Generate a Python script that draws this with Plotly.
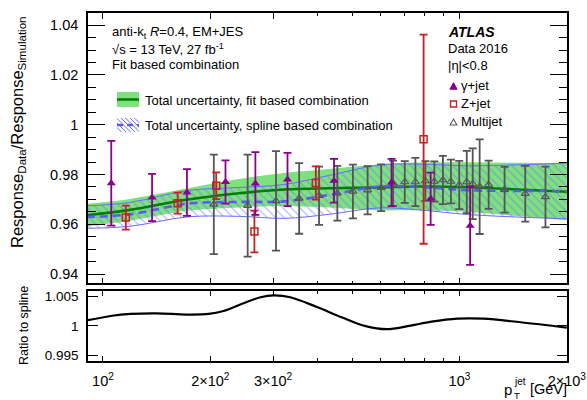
import plotly.graph_objects as go

# ---------------- data ----------------
gamma_pt = [105.5, 137.3, 172.0, 220.6, 267.6, 329.3, 444.6, 644.7, 829.9, 1071.0]
gamma_val = [0.9765, 0.9708, 0.9728, 0.9770, 0.9764, 0.9780, 0.9775, 0.9768, 0.9703, 0.9594]
gamma_err = [0.0170, 0.0095, 0.0094, 0.0087, 0.0126, 0.0107, 0.0088, 0.0095, 0.0105, 0.0157]

zjet_pt = [115.9, 162.0, 207.8, 265.9, 395.4, 793.1]
zjet_val = [0.9627, 0.9685, 0.9755, 0.9571, 0.9766, 0.9942]
zjet_err = [0.0048, 0.0042, 0.0054, 0.0084, 0.0067, 0.0420]

mj_pt = [204.6, 254.6, 305.7, 355.0, 403.7, 454.3, 502.4, 552.4, 602.9, 651.2, 702.2, 752.2,
         802.3, 850.0, 898.4, 945.9, 998.2, 1048.0, 1089.0, 1139.0, 1207.0, 1338.0, 1529.0, 1742.0]
mj_val = [0.9680, 0.9675, 0.9694, 0.9704, 0.9715, 0.9725, 0.9732, 0.9737, 0.9747, 0.9765, 0.9770, 0.9770,
          0.9774, 0.9772, 0.9778, 0.9772, 0.9758, 0.9770, 0.9763, 0.9751, 0.9759, 0.9739, 0.9723, 0.9710]
mj_err = [0.0200, 0.0205, 0.0200, 0.0142, 0.0117, 0.0110, 0.0108, 0.0097, 0.0094, 0.0091, 0.0084, 0.0097,
          0.0080, 0.0081, 0.0097, 0.0088, 0.0097, 0.0125, 0.0142, 0.0190, 0.0097, 0.0092, 0.0112, 0.0122]

band_pt = [90, 119, 173, 241, 322, 430, 594, 768, 1060, 1461, 2000]
fit_center = [0.9637, 0.9658, 0.9700, 0.9725, 0.9740, 0.9745, 0.9748, 0.9752, 0.9749, 0.9740, 0.9731]
fit_up = [0.9682, 0.9702, 0.9745, 0.9782, 0.9806, 0.9822, 0.9840, 0.9848, 0.9849, 0.9847, 0.9846]
fit_low = [0.9592, 0.9614, 0.9655, 0.9668, 0.9674, 0.9668, 0.9656, 0.9656, 0.9649, 0.9633, 0.9616]
spl_center = [0.9629, 0.9640, 0.9683, 0.9690, 0.9692, 0.9718, 0.9752, 0.9750, 0.9737, 0.9734, 0.9734]
spl_up = [0.9674, 0.9688, 0.9736, 0.9748, 0.9760, 0.9796, 0.9838, 0.9842, 0.9835, 0.9839, 0.9846]
spl_low = [0.9584, 0.9592, 0.9630, 0.9632, 0.9624, 0.9640, 0.9666, 0.9658, 0.9639, 0.9629, 0.9622]

ratio_pt = [90, 106.1, 119.7, 141.5, 171.4, 198, 217.8, 245.6, 276.8, 301.1, 335.2, 396.7, 469.1,
            541.9, 625.6, 722.3, 834.2, 986.5, 1166, 1483, 2000]
ratio_val = [1.0009, 1.0017, 1.0020, 1.0021, 1.0019, 1.0020, 1.0025, 1.0037, 1.0048, 1.0051, 1.0048,
             1.0032, 1.0014, 1.0000, 0.99944, 1.0000, 1.0007, 1.0012, 1.0012, 1.0006, 0.9997]

x_major_vals = [100, 200, 300, 1000, 2000]
x_major_text = ["10<sup>2</sup>", "2\u00d710<sup>2</sup>", "3\u00d710<sup>2</sup>", "10<sup>3</sup>", "2\u00d710<sup>3</sup>"]
x_minor_vals = [400, 500, 600, 700, 800, 900]
y_top_vals = [0.94, 0.96, 0.98, 1.0, 1.02, 1.04]
y_top_text = ["0.94", "0.96", "0.98", "1", "1.02", "1.04"]
y_bot_vals = [0.995, 1.0, 1.005]
y_bot_text = ["0.995", "1", "1.005"]

# ---------------- styles ----------------
FONT = "Liberation Sans, Arial, sans-serif"
GREEN_FILL = "#7ee07e"
GREEN_LINE = "#008000"
BLUE = "#6a6aff"
BLUE_DASH = "#5a5af5"
PURPLE = "#8b008b"
RED = "#cc1f1f"
GRAY = "#555555"

W, H = 587, 400
L, R, T, B = 88, 20, 13, 39


def px(x):
    return (x - L) / (W - L - R)


def py(y):
    return (H - B - y) / (H - T - B)


fig = go.Figure()

# fit-based band (solid green)
fig.add_trace(go.Scatter(x=band_pt, y=fit_up, mode="lines", line=dict(width=0, shape="spline"),
                         hoverinfo="skip", showlegend=False))
fig.add_trace(go.Scatter(x=band_pt, y=fit_low, mode="lines", line=dict(width=0, shape="spline"),
                         fill="tonexty", fillcolor=GREEN_FILL, hoverinfo="skip", showlegend=False))
# spline-based band (hatched)
fig.add_trace(go.Scatter(x=band_pt, y=spl_up, mode="lines", line=dict(width=1, color=BLUE, shape="spline"),
                         hoverinfo="skip", showlegend=False))
fig.add_trace(go.Scatter(x=band_pt, y=spl_low, mode="lines", line=dict(width=1, color=BLUE, shape="spline"),
                         fill="tonexty", fillcolor="rgba(0,0,0,0)",
                         fillpattern=dict(shape="\\", fgcolor="#6f6fff", bgcolor="rgba(0,0,0,0)",
                                          size=6, solidity=0.2, fillmode="overlay"),
                         hoverinfo="skip", showlegend=False))
# central lines
fig.add_trace(go.Scatter(x=band_pt, y=fit_center, mode="lines",
                         line=dict(width=2.6, color=GREEN_LINE, shape="spline"), showlegend=False))
fig.add_trace(go.Scatter(x=band_pt, y=spl_center, mode="lines",
                         line=dict(width=2.6, color=BLUE_DASH, shape="spline", dash="8px,5px"), showlegend=False))

# data points
fig.add_trace(go.Scatter(x=mj_pt, y=mj_val, mode="markers",
                         marker=dict(symbol="triangle-up-open", size=7, color=GRAY, line=dict(width=1.2, color=GRAY)),
                         error_y=dict(type="data", array=mj_err, color=GRAY, thickness=1.8, width=4),
                         showlegend=False))
fig.add_trace(go.Scatter(x=zjet_pt, y=zjet_val, mode="markers",
                         marker=dict(symbol="square-open", size=7, color=RED, line=dict(width=1.5, color=RED)),
                         error_y=dict(type="data", array=zjet_err, color=RED, thickness=1.8, width=4),
                         showlegend=False))
fig.add_trace(go.Scatter(x=gamma_pt, y=gamma_val, mode="markers",
                         marker=dict(symbol="triangle-up", size=8, color=PURPLE),
                         error_y=dict(type="data", array=gamma_err, color=PURPLE, thickness=1.8, width=4),
                         showlegend=False))

# ratio panel
fig.add_trace(go.Scatter(x=ratio_pt, y=ratio_val, mode="lines", xaxis="x2", yaxis="y2",
                         line=dict(width=2.2, color="black", shape="spline"), showlegend=False))

xrange = [1.958, 3.3015]
axis_common = dict(showline=True, linecolor="black", linewidth=1.5, mirror="allticks", automargin=False,
                   showgrid=False, zeroline=False, ticks="inside", tickcolor="black", tickwidth=1.2)

fig.update_layout(
    width=W, height=H,
    margin=dict(l=L, r=R, t=T, b=B, autoexpand=False),
    paper_bgcolor="white", plot_bgcolor="white",
    font=dict(family=FONT, color="black"),
    showlegend=False,
    xaxis=dict(type="log", range=xrange, domain=[0, 1], anchor="y", showticklabels=False,
               tickmode="array", tickvals=x_major_vals, ticklen=6,
               minor=dict(tickmode="array", tickvals=x_minor_vals, ticklen=3, ticks="inside",
                          tickcolor="black", tickwidth=1.2),
               **axis_common),
    yaxis=dict(range=[0.9363, 1.0449], domain=[py(283.3), 1], anchor="x",
               tickmode="array", tickvals=y_top_vals, ticktext=y_top_text, ticklen=17,
               tickfont=dict(size=14.5, family=FONT), ticklabelstandoff=5,
               minor=dict(dtick=0.005, tick0=0.94, ticklen=8, ticks="inside", tickcolor="black", tickwidth=1.2),
               **axis_common),
    xaxis2=dict(type="log", range=xrange, domain=[0, 1], anchor="y2",
                tickmode="array", tickvals=x_major_vals, ticktext=x_major_text, ticklen=5,
                tickfont=dict(size=14.5, family=FONT), ticklabelstandoff=6,
                minor=dict(tickmode="array", tickvals=x_minor_vals, ticklen=3, ticks="inside",
                           tickcolor="black", tickwidth=1.2),
                **axis_common),
    yaxis2=dict(range=[0.9941, 1.0058], domain=[0, py(291.3)], anchor="x2",
                tickmode="array", tickvals=y_bot_vals, ticktext=y_bot_text, ticklen=10,
                tickfont=dict(size=13.5, family=FONT), ticklabelstandoff=5,
                **axis_common),
)

ann = []


def text(x, y, s, size=13, xanchor="left", color="black", angle=0):
    ann.append(dict(x=px(x), y=py(y), xref="paper", yref="paper", text=s, showarrow=False,
                    xanchor=xanchor, yanchor="middle", textangle=angle,
                    font=dict(size=size, family=FONT, color=color)))


# top-left labels
text(110, 32, "anti-k<sub>t</sub> <i>R</i>=0.4, EM+JES")
text(110, 48.5, "\u221as = 13 TeV, 27 fb<sup>-1</sup>")
text(110, 64.5, "Fit based combination")
text(143, 100, "Total uncertainty, fit based combination")
text(143, 125, "Total uncertainty, spline based combination")

# top-right labels
text(446, 32, "<b><i>ATLAS</i></b>", size=14)
text(446, 49, "Data 2016")
text(446, 66, "|\u03b7|<0.8")
text(459, 85.5, "\u03b3+jet")
text(459, 103.5, "Z+jet")
text(459, 121.5, "Multijet")

# axis titles
text(18, 132, "Response<sub>Data</sub>/Response<sub>Simulation</sub>", size=16.5, xanchor="center", angle=-90)
text(24, 326, "Ratio to spline", size=12.5, xanchor="center", angle=-90)
text(508, 389, "p", size=15, xanchor="center")
text(512, 381.5, "jet", size=10)
text(512, 395, "T", size=9.5)
text(569, 389, "[GeV]", size=14.5, xanchor="right")

fig.update_layout(annotations=ann)

shapes = []
# legend swatch: fit based (green box + line)
shapes.append(dict(type="rect", xref="paper", yref="paper", x0=px(117), x1=px(139), y0=py(107), y1=py(92),
                   fillcolor=GREEN_FILL, line=dict(width=0)))
shapes.append(dict(type="line", xref="paper", yref="paper", x0=px(117), x1=px(139), y0=py(99.5), y1=py(99.5),
                   line=dict(color=GREEN_LINE, width=2.6)))
# legend swatch: spline based (hatch + dashed line)
hx0, hx1, hy0, hy1 = 117, 139, 118, 132
c = hx0 - hy1
while c < hx1 - hy0:
    lo = max(hx0, hy0 + c)
    hi = min(hx1, hy1 + c)
    if hi > lo:
        shapes.append(dict(type="line", xref="paper", yref="paper", x0=px(lo), y0=py(lo - c),
                           x1=px(hi), y1=py(hi - c), line=dict(color="#6f6fff", width=1)))
    c += 4.5
shapes.append(dict(type="line", xref="paper", yref="paper", x0=px(117), x1=px(139), y0=py(125), y1=py(125),
                   line=dict(color=BLUE_DASH, width=2.6, dash="6px,4px")))


def tri_path(cx, cy, hw, h):
    return (f"M {px(cx - hw)},{py(cy + h / 2)} L {px(cx + hw)},{py(cy + h / 2)} "
            f"L {px(cx)},{py(cy - h / 2)} Z")


# right legend markers
shapes.append(dict(type="path", xref="paper", yref="paper", path=tri_path(453.5, 86, 3.6, 6.5),
                   fillcolor=PURPLE, line=dict(color=PURPLE, width=1)))
shapes.append(dict(type="rect", xref="paper", yref="paper", x0=px(450.5), x1=px(456.5), y0=py(107), y1=py(101),
                   line=dict(color=RED, width=1.3)))
shapes.append(dict(type="path", xref="paper", yref="paper", path=tri_path(453.5, 122, 3.4, 6),
                   line=dict(color=GRAY, width=1.1)))

fig.update_layout(shapes=shapes)

fig.write_html("out.html", config={"displayModeBar": False},
               post_script="document.body.style.margin='0px';document.body.style.overflow='hidden';")
